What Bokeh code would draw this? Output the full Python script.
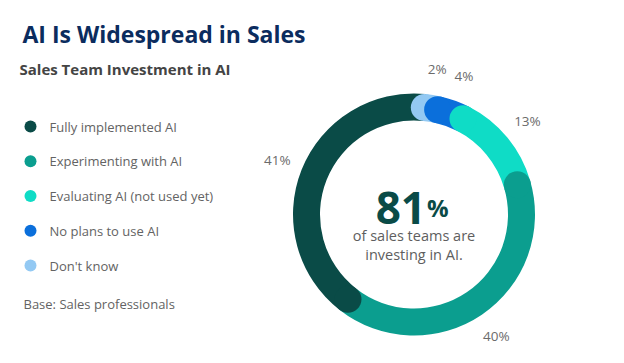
import numpy as np
from bokeh.plotting import figure
from bokeh.models import Range1d
from bokeh.core.properties import value
from bokeh.embed import file_html
from bokeh.resources import INLINE

# ---- data ----
title = "AI Is Widespread in Sales"
subtitle = "Sales Team Investment in AI"
categories = ["Fully implemented AI", "Experimenting with AI",
              "Evaluating AI (not used yet)", "No plans to use AI", "Don't know"]
shares = [41, 40, 13, 4, 2]
colors = ["#0a4b47", "#0b9e8f", "#0fdcc6", "#0b6fdb", "#93c9f3"]
headline_value = "81"
headline_lines = ["of sales teams are", "investing in AI."]
base_note = "Base: Sales professionals"

# ---- layout ----
W, H = 624, 363
FONT = value("Open Sans")
p = figure(width=W, height=H, x_range=Range1d(0, W), y_range=Range1d(0, H),
           output_backend="svg", toolbar_location=None, min_border=0)
p.axis.visible = False
p.grid.visible = False
p.outline_line_color = None
p.background_fill_color = "white"
p.border_fill_color = "white"

def X(rx):
    return rx

def Y(ry):
    return H - ry

# title & subtitle
p.text(x=[X(22)], y=[Y(33)], text=[title], text_font=FONT, text_font_size="23px",
       text_font_style="bold", text_color="#0b2c5e", text_baseline="alphabetic")
p.text(x=[X(19)], y=[Y(68)], text=[subtitle], text_font=FONT, text_font_size="15px",
       text_font_style="bold", text_color="#444444", text_baseline="alphabetic")

# legend
leg_y = [Y(126) - i * 34.75 for i in range(len(categories))]
p.scatter(x=[X(30)] * len(categories), y=leg_y, size=12, color=colors, line_color=None)
p.text(x=[X(49)] * len(categories), y=leg_y, text=categories, text_font=FONT,
       text_font_size="13px", text_color="#636363", text_baseline="middle")
p.text(x=[X(23)], y=[Y(303)], text=[base_note], text_font=FONT, text_font_size="13px",
       text_color="#636363", text_baseline="middle")

# donut (clockwise from top: reversed category order)
cx, cy = X(413.5), Y(214)
r_out, r_in = 121, 94
r_mid = (r_out + r_in) / 2
cap_r = (r_out - r_in) / 2
start_deg = 5.5
ring_idx = list(range(len(categories)))[::-1]
ring_shares = np.array([shares[i] for i in ring_idx], dtype=float)
ring_colors = [colors[i] for i in ring_idx]
ends = np.cumsum(ring_shares) / ring_shares.sum() * 360 + start_deg
starts = ends - ring_shares / ring_shares.sum() * 360
to_rad = lambda d: np.pi / 2 - np.deg2rad(d)

p.annular_wedge(x=cx, y=cy, inner_radius=r_in, outer_radius=r_out,
                start_angle=to_rad(starts), end_angle=to_rad(ends), direction="clock",
                color=ring_colors, line_color=None)
# rounded caps at each segment start
cap_x = cx + r_mid * np.sin(np.deg2rad(starts))
cap_y = cy + r_mid * np.cos(np.deg2rad(starts))
p.circle(x=cap_x, y=cap_y, radius=cap_r, color=ring_colors, line_color=None)

# percentage labels
mids = (starts + ends) / 2
lab_r = 147
lx = cx + lab_r * np.sin(np.deg2rad(mids))
ly = cy + lab_r * np.cos(np.deg2rad(mids))
p.text(x=lx, y=ly, text=[f"{int(v)}%" for v in ring_shares], text_font=FONT,
       text_font_size="13.5px", text_color="#6b6b6b", text_align="center",
       text_baseline="middle")

# center text
p.text(x=[cx + 12], y=[Y(207)], text=[headline_value], text_font=FONT,
       text_font_size="44px", text_font_style="bold", text_color="#0a4b47",
       text_align="right", text_baseline="alphabetic")
p.text(x=[cx + 13], y=[Y(207)], text=["%"], text_font=FONT,
       text_font_size="24px", text_font_style="bold", text_color="#0a4b47",
       text_align="left", text_baseline="alphabetic")
p.text(x=[cx, cx], y=[Y(235), Y(254)], text=headline_lines, text_font=FONT,
       text_font_size="14.5px", text_color="#5e5e5e", text_align="center",
       text_baseline="alphabetic")

open("out.html", "w").write(file_html(p, INLINE))
